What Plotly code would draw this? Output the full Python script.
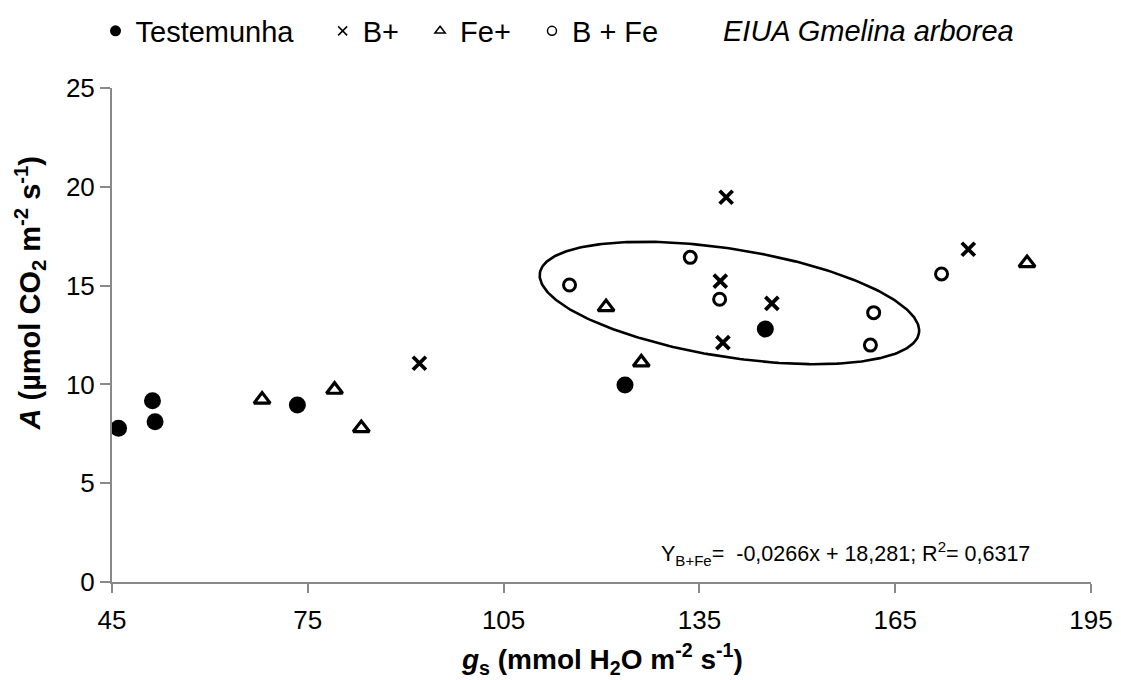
import numpy as np
import plotly.graph_objects as go

# ---- data ----
testemunha_x = [46.0, 51.2, 51.6, 73.4, 123.6, 145.1]
testemunha_y = [7.78, 9.17, 8.11, 8.96, 9.97, 12.80]

b_x = [92.1, 138.2, 138.6, 139.1, 146.1, 176.2]
b_y = [11.07, 15.23, 12.11, 19.47, 14.10, 16.84]

fe_x = [68.0, 79.1, 83.2, 120.7, 126.1, 185.2]
fe_y = [9.23, 9.73, 7.79, 13.91, 11.11, 16.14]

bfe_x = [115.1, 133.6, 138.1, 161.7, 161.2, 172.1]
bfe_y = [15.03, 16.43, 14.31, 13.63, 11.99, 15.59]

series_names = ["Testemunha", "B+", "Fe+", "B + Fe"]
x_ticks = [45, 75, 105, 135, 165, 195]
y_ticks = [0, 5, 10, 15, 20, 25]

equation_text = "Y<sub>B+Fe</sub>=  -0,0266x + 18,281; R<sup>2</sup>= 0,6317"
species_text = "EIUA Gmelina arborea"
x_title = "<b><i>g</i><sub>s</sub> (mmol H<sub>2</sub>O m<sup>-2</sup> s<sup>-1</sup>)</b>"
y_title = "<b><i>A</i> (µmol CO<sub>2</sub> m<sup>-2</sup> s<sup>-1</sup>)</b>"

# ellipse enclosing the B+Fe group (center in data units, semi-axes in px, tilt in deg)
ell_cx, ell_cy = 139.6, 14.12
ell_a_px, ell_b_px, ell_tilt = 192, 54, 9.0

# ---- layout geometry ----
W, H = 1121, 680
ml, mr, mt, mb = 111.5, 30, 88, 98
plot_w = W - ml - mr
plot_h = H - mt - mb
xr = [45, 195]
yr = [0, 25]
px_per_x = plot_w / (xr[1] - xr[0])
px_per_y = plot_h / (yr[1] - yr[0])


def paper_x(px):
    return (px - ml) / plot_w


def paper_y(py):
    return (H - mb - py) / plot_h


FONT = "Liberation Sans, Arial, sans-serif"
NB = "\u00a0"

fig = go.Figure()

# ellipse outline
t = np.linspace(0, 2 * np.pi, 300)
th = np.deg2rad(ell_tilt)
ex = ell_a_px * np.cos(t) * np.cos(th) - ell_b_px * np.sin(t) * np.sin(th)
ey = ell_a_px * np.cos(t) * np.sin(th) + ell_b_px * np.sin(t) * np.cos(th)
fig.add_trace(go.Scatter(
    x=ell_cx + ex / px_per_x, y=ell_cy - ey / px_per_y,
    mode="lines", line=dict(color="black", width=2.6),
    showlegend=False, hoverinfo="skip"))

# plotted series
fig.add_trace(go.Scatter(x=testemunha_x, y=testemunha_y, mode="markers", showlegend=False,
                         name=series_names[0],
                         marker=dict(symbol="circle", size=17, color="black")))
fig.add_trace(go.Scatter(x=b_x, y=b_y, mode="markers", showlegend=False, name=series_names[1],
                         marker=dict(symbol="x-thin", size=13, color="black",
                                     line=dict(color="black", width=3.8))))
fig.add_trace(go.Scatter(x=fe_x, y=fe_y, mode="markers", showlegend=False, name=series_names[2],
                         marker=dict(symbol="triangle-up-open", size=14, color="black",
                                     line=dict(color="black", width=3.2))))
fig.add_trace(go.Scatter(x=bfe_x, y=bfe_y, mode="markers", showlegend=False, name=series_names[3],
                         marker=dict(symbol="circle-open", size=12, color="black",
                                     line=dict(color="black", width=3))))

# legend entries (small, thin symbols like the reference)
leg_markers = [
    dict(symbol="circle", size=11, color="black"),
    dict(symbol="x-thin", size=9, color="black", line=dict(color="black", width=1.5)),
    dict(symbol="triangle-up-open", size=9, color="black", line=dict(color="black", width=1.5)),
    dict(symbol="circle-open", size=9, color="black", line=dict(color="black", width=1.5)),
]
leg_pad = [3, 2, 2, 0]
for name, mk, pad in zip(series_names, leg_markers, leg_pad):
    fig.add_trace(go.Scatter(x=[None], y=[None], mode="markers", name=name + NB * pad,
                             marker=mk, showlegend=True))

axis_common = dict(
    showline=True, linecolor="#898989", linewidth=2,
    ticks="outside", tickcolor="#898989", tickwidth=2,
    showgrid=False, zeroline=False,
    tickfont=dict(family=FONT, size=26, color="black"),
)

fig.update_layout(
    width=W, height=H,
    margin=dict(l=ml, r=mr, t=mt, b=mb, pad=0, autoexpand=False),
    paper_bgcolor="white", plot_bgcolor="white",
    xaxis=dict(range=xr, tickvals=x_ticks, ticklen=9, ticklabelstandoff=5,
               automargin=False, **axis_common),
    yaxis=dict(range=yr, tickvals=y_ticks, ticklen=10, automargin=False, **axis_common),
    legend=dict(orientation="h", x=paper_x(95), xanchor="left", y=paper_y(31), yanchor="middle",
                font=dict(family=FONT, size=29, color="black"),
                itemwidth=30, tracegroupgap=0,
                bgcolor="rgba(0,0,0,0)"),
    showlegend=True,
)

# axis titles
fig.add_annotation(text=x_title, xref="paper", yref="paper",
                   x=paper_x(602), y=paper_y(659), xanchor="center", yanchor="middle",
                   showarrow=False, font=dict(family=FONT, size=28, color="black"))
fig.add_annotation(text=y_title, xref="paper", yref="paper",
                   x=paper_x(29), y=paper_y(293), xanchor="center", yanchor="middle",
                   textangle=-90, showarrow=False,
                   font=dict(family=FONT, size=29, color="black"))

# species label next to the legend
fig.add_annotation(text="<i>" + species_text + "</i>", xref="paper", yref="paper",
                   x=paper_x(868), y=paper_y(31), xanchor="center", yanchor="middle",
                   showarrow=False, font=dict(family=FONT, size=29, color="black"))

# regression equation
fig.add_annotation(text=equation_text, xref="paper", yref="paper",
                   x=paper_x(1032), y=paper_y(553), xanchor="right", yanchor="middle",
                   showarrow=False, font=dict(family=FONT, size=21.5, color="black"))

fig.write_html("out.html")
